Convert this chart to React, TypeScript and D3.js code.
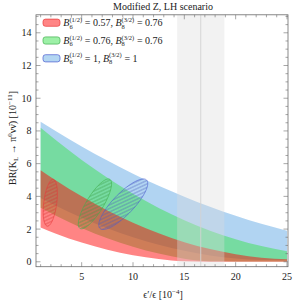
import * as d3 from "d3";

// x positions where band edges were read (ε'/ε in units of 1e-4)
const XS = [1, 2.5, 5, 7.5, 10, 12.5, 15, 17.5, 20, 22.5, 25];

// BR(K_L -> pi0 nu nubar) in units of 1e-11
const blueUpper = [8.56, 7.98, 7.05, 6.19, 5.39, 4.65, 3.98, 3.36, 2.81, 2.32, 1.9];
const blueLower = [3.9, 3.42, 2.69, 2.05, 1.5, 1.04, 0.67, 0.39, 0.2, 0.11, 0.1];
const greenUpper = [8.2, 7.43, 6.22, 5.14, 4.16, 3.29, 2.54, 1.9, 1.38, 0.96, 0.65];
const greenLower = [3.3, 2.81, 2.07, 1.44, 0.92, 0.5, 0.19, 0.03, 0.02, 0.02, 0.02];
const redUpper = [5.6, 4.97, 4.0, 3.13, 2.38, 1.74, 1.2, 0.78, 0.46, 0.25, 0.15];
const redLower = [2.1, 1.72, 1.18, 0.74, 0.4, 0.17, 0.03, 0.01, 0, 0, 0];

// hatched ellipses: center, major half-axis vector, minor half-axis vector (data units)
const ellipseCenter = [
  [1.94, 3.61],
  [6.29, 3.54],
  [9.05, 3.52],
];
const ellipseMajor = [
  [0.29, 1.43],
  [1.46, 1.5],
  [2.27, 1.48],
];
const ellipseMinor = [
  [0.628, -0.05],
  [0.706, -0.271],
  [0.736, -0.445],
];

// experimental epsilon'/epsilon range
const expBand = [14.3, 18.9];
const expCentral = 16.6;

const legendB6 = ["0.57", "0.76", "1"];
const legendB8 = ["0.76", "0.76", "1"];

const xMajor = [5, 10, 15, 20, 25];
const yMajor = [0, 2, 4, 6, 8, 10, 12, 14];

const colors = [
  { fill: "rgb(255,10,10)", swatch: "#ff8585", stroke: "#e8393a", hatch: "#d83030" },
  { fill: "rgb(60,225,80)", swatch: "#9df0a7", stroke: "#3fb04c", hatch: "#3a9a44" },
  { fill: "rgb(100,170,230)", swatch: "#b3d6f2", stroke: "#4a5ad0", hatch: "#4a5ab8" },
];
const bandOrder = [
  { up: blueUpper, lo: blueLower, c: 2 },
  { up: greenUpper, lo: greenLower, c: 1 },
  { up: redUpper, lo: redLower, c: 0 },
];

const FONT = "'Liberation Serif', 'DejaVu Serif', serif";

export default function App() {
  const W = 293;
  const H = 303;
  const x = d3.scaleLinear().domain([0.55, 25.1]).range([36, 288]);
  const y = d3.scaleLinear().domain([-0.3, 15.1]).range([266.7, 14.8]);
  const [x0, x1] = x.range();
  const [y0, y1] = y.range();

  const bandPath = (up: number[], lo: number[]) =>
    d3
      .area<number>()
      .x((_, i) => x(XS[i]))
      .y0((_, i) => y(lo[i]))
      .y1((d) => y(d))
      .curve(d3.curveMonotoneX)(up) || "";

  const ellipsePath = (k: number) => {
    const pts: [number, number][] = d3.range(0, 96).map((j) => {
      const t = (j / 96) * Math.PI * 2;
      const [cx, cy] = ellipseCenter[k];
      const [ux, uy] = ellipseMajor[k];
      const [vx, vy] = ellipseMinor[k];
      return [
        x(cx + ux * Math.cos(t) + vx * Math.sin(t)),
        y(cy + uy * Math.cos(t) + vy * Math.sin(t)),
      ];
    });
    return d3.line().curve(d3.curveLinearClosed)(pts) || "";
  };

  const xMinor = d3.range(1, 26).filter((v) => !xMajor.includes(v));
  const yMinor = d3.range(0, 15.01, 0.5).filter((v) => !yMajor.includes(v));
  const frameColor = "#6b6b6b";

  return (
    <svg
      width={W}
      height={H}
      style={{ position: "absolute", left: 0, top: 0, background: "#fff", fontFamily: FONT }}
    >
      <defs>
        {colors.map((c, i) => (
          <pattern
            key={i}
            id={`hatch${i}`}
            width={3.2}
            height={3.2}
            patternUnits="userSpaceOnUse"
            patternTransform="rotate(-25)"
          >
            <line x1={0} y1={1.6} x2={3.2} y2={1.6} stroke={c.hatch} strokeWidth={0.5} />
          </pattern>
        ))}
        <clipPath id="plotClip">
          <rect x={x0} y={y1} width={x1 - x0} height={y0 - y1} />
        </clipPath>
      </defs>

      <text x={(x0 + x1) / 2 + 1} y={10} fontSize={10} textAnchor="middle" fill="#222">
        Modified Z,  LH scenario
      </text>

      <g clipPath="url(#plotClip)">
        {bandOrder.map((b, i) => (
          <path key={i} d={bandPath(b.up, b.lo)} fill={colors[b.c].fill} fillOpacity={0.5} />
        ))}
        {[0, 1, 2].map((k) => (
          <path
            key={k}
            d={ellipsePath(k)}
            fill={`url(#hatch${k})`}
            stroke={colors[k].stroke}
            strokeWidth={0.6}
          />
        ))}
        <rect
          x={x(expBand[0])}
          y={y1}
          width={x(expBand[1]) - x(expBand[0])}
          height={y0 - y1}
          fill="#dcdcdc"
          fillOpacity={0.36}
        />
        <line
          x1={x(expCentral)}
          x2={x(expCentral)}
          y1={y1}
          y2={y0}
          stroke="#d2d2d2"
          strokeWidth={0.9}
        />
      </g>

      {/* frame */}
      <rect x={x0} y={y1} width={x1 - x0} height={y0 - y1} fill="none" stroke={frameColor} strokeWidth={0.8} />
      <g stroke={frameColor} strokeWidth={0.6}>
        {xMajor.map((v) => (
          <g key={`xM${v}`}>
            <line x1={x(v)} x2={x(v)} y1={y0} y2={y0 - 4.5} />
            <line x1={x(v)} x2={x(v)} y1={y1} y2={y1 + 4.5} />
          </g>
        ))}
        {xMinor.map((v) => (
          <g key={`xm${v}`}>
            <line x1={x(v)} x2={x(v)} y1={y0} y2={y0 - 2.5} />
            <line x1={x(v)} x2={x(v)} y1={y1} y2={y1 + 2.5} />
          </g>
        ))}
        {yMajor.map((v) => (
          <g key={`yM${v}`}>
            <line x1={x0} x2={x0 + 4.5} y1={y(v)} y2={y(v)} />
            <line x1={x1} x2={x1 - 4.5} y1={y(v)} y2={y(v)} />
          </g>
        ))}
        {yMinor.map((v) => (
          <g key={`ym${v}`}>
            <line x1={x0} x2={x0 + 2.5} y1={y(v)} y2={y(v)} />
            <line x1={x1} x2={x1 - 2.5} y1={y(v)} y2={y(v)} />
          </g>
        ))}
      </g>

      <g fontSize={10} fill="#222">
        {xMajor.map((v) => (
          <text key={v} x={x(v)} y={280} textAnchor="middle">
            {v}
          </text>
        ))}
        {yMajor.map((v) => (
          <text key={v} x={31.5} y={y(v) + 3.5} textAnchor="end">
            {v}
          </text>
        ))}
      </g>

      {/* axis labels */}
      <text x={(x0 + x1) / 2 + 1} y={298} fontSize={10} textAnchor="middle" fill="#222">
        ϵ′/ϵ  [10
        <tspan fontSize={7} dy={-4}>−4</tspan>
        <tspan dy={4}>]</tspan>
      </text>
      <text
        transform={`translate(15.5,${138}) rotate(-90)`}
        fontSize={10}
        textAnchor="middle"
        fill="#222"
      >
        BR(K<tspan fontSize={7} dy={2.5}>L</tspan>
        <tspan dy={-2.5}> → π</tspan>
        <tspan fontSize={7} dy={-4}>0</tspan>
        <tspan dy={4}>νν̄)  [10</tspan>
        <tspan fontSize={7} dy={-4}>−11</tspan>
        <tspan dy={4}>]</tspan>
      </text>

      {/* legend */}
      {[0, 1, 2].map((i) => {
        const ly = 22.7 + i * 17.8;
        return (
          <g key={i}>
            <rect
              x={43}
              y={ly - 3.6}
              width={17}
              height={7.2}
              rx={2.5}
              fill={colors[i].swatch}
              stroke={colors[i].stroke}
              strokeWidth={0.7}
            />
            <text x={63.3} y={ly + 3.3} fontSize={10} fill="#222">
              <tspan fontStyle="italic">B</tspan>
              <tspan fontSize={6.5} dy={-4.3}>(1/2)</tspan>
              <tspan fontSize={6.5} dx={-12.6} dy={6.8}>6</tspan>
              <tspan dx={9.6} dy={-2.5}> = {legendB6[i]}, </tspan>
              <tspan fontStyle="italic">B</tspan>
              <tspan fontSize={6.5} dy={-4.3}>(3/2)</tspan>
              <tspan fontSize={6.5} dx={-12.6} dy={6.8}>8</tspan>
              <tspan dx={9.6} dy={-2.5}> = {legendB8[i]}</tspan>
            </text>
          </g>
        );
      })}
    </svg>
  );
}
